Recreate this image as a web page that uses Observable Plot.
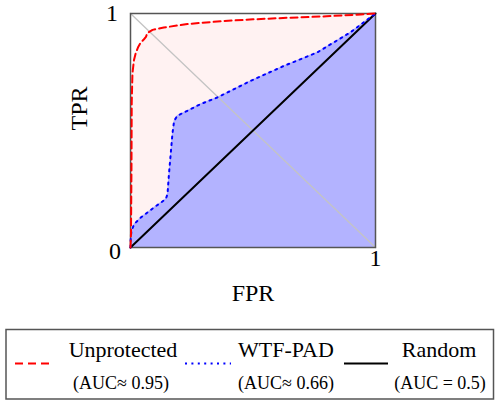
<!DOCTYPE html>
<html>
<head>
<meta charset="utf-8">
<script src="https://cdn.jsdelivr.net/npm/d3@7"></script>
<script src="https://cdn.jsdelivr.net/npm/@observablehq/plot@0.6"></script>
<style>
  html, body { margin: 0; padding: 0; background: white; }
  #chart { width: 495px; height: 401px; position: relative; font-family: "Liberation Serif", "Times New Roman", serif; }
  #legend { display: block; }
</style>
</head>
<body>
<div id="chart"></div>
<script>
// Unprotected ROC curve (FPR, TPR)
const redFPR = [0, 0.002, 0.004, 0.005, 0.008, 0.014, 0.022, 0.032, 0.042, 0.055, 0.063, 0.069, 0.09, 0.136, 0.232, 0.368, 0.5, 0.65, 0.8, 0.94, 1];
const redTPR = [0, 0.06, 0.34, 0.62, 0.745, 0.8, 0.833, 0.858, 0.876, 0.89, 0.9, 0.917, 0.93, 0.94, 0.955, 0.967, 0.975, 0.982, 0.988, 0.996, 1];
// WTF-PAD ROC curve
const blueFPR = [0, 0.001, 0.004, 0.015, 0.042, 0.096, 0.144, 0.151, 0.157, 0.164, 0.171, 0.178, 0.191, 0.232, 0.286, 0.354, 0.49, 0.626, 0.761, 0.897, 0.978, 1];
const blueTPR = [0, 0.043, 0.07, 0.1, 0.128, 0.171, 0.207, 0.228, 0.314, 0.399, 0.485, 0.541, 0.563, 0.584, 0.613, 0.641, 0.712, 0.776, 0.833, 0.919, 0.983, 1];
// Random classifier
const randFPR = [0, 1];
const randTPR = [0, 1];
// Reference anti-diagonal
const refFPR = [0, 1];
const refTPR = [1, 0];
// Tick labels
const xTicks = [1];
const yTicks = [1];
const originLabel = ["0"];
const xLabel = "FPR";
const yLabel = "TPR";
// Legend
const legendNames = ["Unprotected", "WTF-PAD", "Random"];
const legendAUC = ["(AUC\u2248 0.95)", "(AUC\u2248 0.66)", "(AUC = 0.5)"];

const zip = (xs, ys) => xs.map((x, i) => ({x, y: ys[i]}));
const red = zip(redFPR, redTPR);
const blue = zip(blueFPR, blueTPR);
const rand = zip(randFPR, randTPR);
const ref = zip(refFPR, refTPR);

const font = "Liberation Serif, Times New Roman, serif";

const plot = Plot.plot({
  width: 495,
  height: 325,
  marginLeft: 130,
  marginRight: 120,
  marginTop: 13,
  marginBottom: 78,
  style: {fontFamily: font, fontSize: "24px", background: "white", color: "black"},
  x: {domain: [0, 1], axis: null},
  y: {domain: [0, 1], axis: null},
  marks: [
    Plot.areaY(red, {x: "x", y: "y", fill: "#fff2f2"}),
    Plot.areaY(blue, {x: "x", y: "y", fill: "#b3b3ff"}),
    Plot.line(ref, {x: "x", y: "y", stroke: "#c4c4c4", strokeWidth: 1.3}),
    Plot.frame({stroke: "#555", strokeWidth: 1.5}),
    Plot.line(rand, {x: "x", y: "y", stroke: "black", strokeWidth: 2}),
    Plot.line(blue, {x: "x", y: "y", stroke: "#0000ff", strokeWidth: 2, strokeDasharray: "2,4.6"}),
    Plot.line(red, {x: "x", y: "y", stroke: "#ff0000", strokeWidth: 2, strokeDasharray: "7,4"}),
    Plot.text(xTicks, {x: d => d, frameAnchor: "bottom", dy: 18, text: d => String(d), fontSize: 24, fill: "black"}),
    Plot.text(yTicks, {y: d => d, frameAnchor: "left", dx: -12.5, textAnchor: "end", text: d => String(d), fontSize: 24, fill: "black"}),
    Plot.text(originLabel, {frameAnchor: "bottom-left", dx: -9.5, dy: 11, textAnchor: "end", text: d => d, fontSize: 24, fill: "black"}),
    Plot.text([xLabel], {frameAnchor: "bottom", dy: 53, text: d => d, fontSize: 24, fill: "black"}),
    Plot.text([yLabel], {frameAnchor: "left", dx: -51, rotate: -90, text: d => d, fontSize: 24, fill: "black"})
  ]
});
document.getElementById("chart").appendChild(plot);

// Legend (below the plot)
const lg = d3.select("#chart").append("svg")
  .attr("id", "legend")
  .attr("width", 495).attr("height", 76)
  .style("font-family", font);
lg.append("rect").attr("x", 6).attr("y", 4.5).attr("width", 487.5).attr("height", 69.5)
  .attr("fill", "white").attr("stroke", "#555").attr("stroke-width", 1.5);
const sw = [
  {x1: 15, x2: 53, stroke: "#ff0000", dash: "8,5"},
  {x1: 185, x2: 231, stroke: "#0000ff", dash: "2,4.4"},
  {x1: 344, x2: 388, stroke: "black", dash: null}
];
const nameX = [123, 286, 439];
const aucX = [121, 286, 440];
sw.forEach((s, i) => {
  const l = lg.append("line").attr("x1", s.x1).attr("x2", s.x2).attr("y1", 38.5).attr("y2", 38.5)
    .attr("stroke", s.stroke).attr("stroke-width", 2);
  if (s.dash) l.attr("stroke-dasharray", s.dash);
  lg.append("text").attr("x", nameX[i]).attr("y", 31.5).attr("text-anchor", "middle")
    .attr("font-size", 22).text(legendNames[i]);
  lg.append("text").attr("x", aucX[i]).attr("y", 63.5).attr("text-anchor", "middle")
    .attr("font-size", 18).text(legendAUC[i]);
});
</script>
</body>
</html>
